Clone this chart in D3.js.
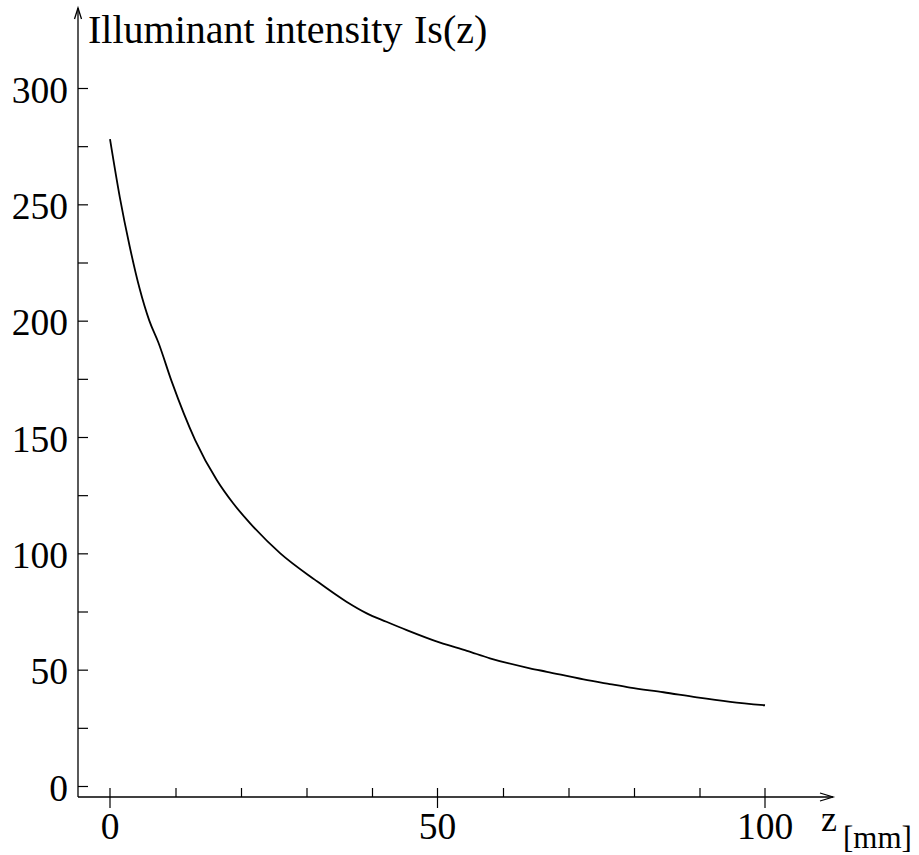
<!DOCTYPE html>
<html>
<head>
<meta charset="utf-8">
<script src="https://cdn.jsdelivr.net/npm/d3@7/dist/d3.min.js"></script>
<style>
  html, body { margin: 0; padding: 0; background: #fff; }
  svg text { font-family: "Liberation Serif", "Times New Roman", serif; fill: #000; }
</style>
</head>
<body>
<svg id="chart" width="919" height="855"></svg>
<script>
// Distance from the source (mm)
const zValues = [0, 1.5, 3, 4.5, 6, 7.4, 9.4, 13, 16.3, 18.8, 21.4, 26, 31.3, 36.1, 39.2,
  42.2, 45.3, 50.4, 54.5, 58, 64.1, 66.7, 72.3, 76.3, 79.4, 84.5, 89.6, 94.7, 100];
// Measured illuminant intensity Is(z)
const intensity = [278, 253, 232, 214, 200, 190.5, 174, 148.7, 131.5, 121.5, 112.9, 100, 88.6, 79.2, 74.2,
  70.6, 67.0, 61.6, 58.1, 54.9, 50.6, 49.1, 45.8, 43.8, 42.3, 40.3, 38.1, 36.2, 34.7];

const yTicks = [0, 25, 50, 75, 100, 125, 150, 175, 200, 225, 250, 275, 300];
const yLabels = [0, 50, 100, 150, 200, 250, 300];
const xMinorTicks = [10, 20, 30, 40, 60, 70, 80, 90];
const xMajorTicks = [0, 50, 100];

const yTitle = "Illuminant intensity";
const yTitleSymbol = "Is(z)";
const xTitle = "z";
const xUnit = "[mm]";

const svg = d3.select("#chart");

const x = d3.scaleLinear().domain([0, 100]).range([110, 765]);
const y = d3.scaleLinear().domain([0, 300]).range([786, 88]);

const axisX = 78;      // vertical axis position
const axisY = 797;     // horizontal axis position
const stroke = "#000";

// Axis lines with open arrowheads
const axes = svg.append("g").attr("stroke", stroke).attr("stroke-width", 1.3).attr("fill", "none");
axes.append("line").attr("x1", axisX).attr("y1", axisY).attr("x2", axisX).attr("y2", 8);
axes.append("path").attr("d", `M${axisX - 3.5},19 L${axisX},8 L${axisX + 3.5},19`);
axes.append("line").attr("x1", axisX).attr("y1", axisY).attr("x2", 833).attr("y2", axisY);
axes.append("path").attr("d", `M820,793 L833,${axisY} L820,801`);

// Y ticks point into the plot
const yAxis = d3.axisRight(y).tickValues(yTicks).tickSize(10).tickFormat("");
const gy = svg.append("g").attr("transform", `translate(${axisX},0)`).call(yAxis);
gy.select(".domain").remove();
gy.selectAll(".tick line").attr("stroke", stroke).attr("stroke-width", 1.2);

svg.append("g").selectAll("text").data(yLabels).join("text")
  .attr("x", 68).attr("y", d => y(d) + 14.5)
  .attr("text-anchor", "end").attr("font-size", 37.5)
  .text(d => d);

// X ticks: minor above the axis, major crossing it
const xMinor = d3.axisTop(x).tickValues(xMinorTicks).tickSize(9).tickFormat("");
const gxm = svg.append("g").attr("transform", `translate(0,${axisY})`).call(xMinor);
gxm.select(".domain").remove();
gxm.selectAll(".tick line").attr("stroke", stroke).attr("stroke-width", 1.2);

svg.append("g").selectAll("line").data(xMajorTicks).join("line")
  .attr("x1", d => x(d)).attr("x2", d => x(d))
  .attr("y1", axisY - 9).attr("y2", axisY + 11)
  .attr("stroke", stroke).attr("stroke-width", 1.2);

svg.append("g").selectAll("text").data(xMajorTicks).join("text")
  .attr("x", d => x(d)).attr("y", axisY + 42)
  .attr("text-anchor", "middle").attr("font-size", 37.5)
  .text(d => d);

// Axis titles
svg.append("text").attr("x", 88).attr("y", 43).attr("font-size", 40).text(yTitle);
svg.append("text").attr("x", 414).attr("y", 43).attr("font-size", 40).text(yTitleSymbol);
svg.append("text").attr("x", 821).attr("y", 831).attr("font-size", 36).text(xTitle);
svg.append("text").attr("x", 843).attr("y", 848).attr("font-size", 31).text(xUnit);

// Intensity curve
const line = d3.line()
  .x((d, i) => x(zValues[i]))
  .y(d => y(d))
  .curve(d3.curveMonotoneX);

svg.append("path")
  .datum(intensity)
  .attr("fill", "none")
  .attr("stroke", "#000")
  .attr("stroke-width", 1.8)
  .attr("d", line);
</script>
</body>
</html>
